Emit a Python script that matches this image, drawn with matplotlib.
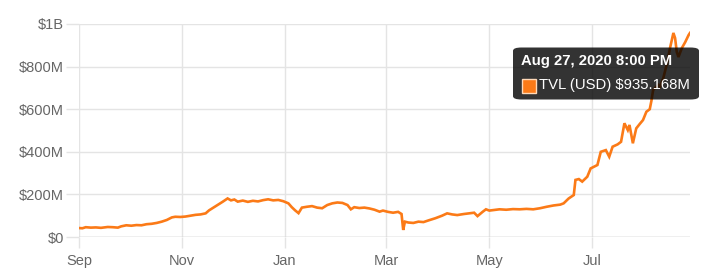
import matplotlib
matplotlib.use("Agg")
import matplotlib.pyplot as plt
from matplotlib.patches import FancyBboxPatch, Rectangle
from matplotlib.ticker import FixedLocator
import pandas as pd

plt.rcParams['font.family'] = ['Liberation Sans', 'DejaVu Sans']

# TVL (USD millions)
dates = [
    "2019-09-01", "2019-09-03", "2019-09-05", "2019-09-08", "2019-09-11", "2019-09-14",
    "2019-09-18", "2019-09-21", "2019-09-24", "2019-09-26", "2019-09-29", "2019-10-02",
    "2019-10-05", "2019-10-08", "2019-10-11", "2019-10-14", "2019-10-17", "2019-10-20",
    "2019-10-23", "2019-10-26", "2019-10-28", "2019-10-31", "2019-11-03", "2019-11-06",
    "2019-11-09", "2019-11-12", "2019-11-15", "2019-11-17", "2019-11-20", "2019-11-22",
    "2019-11-25", "2019-11-28", "2019-11-30", "2019-12-02", "2019-12-04", "2019-12-07",
    "2019-12-10", "2019-12-13", "2019-12-16", "2019-12-19", "2019-12-22", "2019-12-25",
    "2019-12-28", "2019-12-31", "2020-01-03", "2020-01-05", "2020-01-07", "2020-01-09",
    "2020-01-11", "2020-01-14", "2020-01-17", "2020-01-20", "2020-01-23", "2020-01-26",
    "2020-01-29", "2020-02-01", "2020-02-04", "2020-02-07", "2020-02-09", "2020-02-11",
    "2020-02-14", "2020-02-17", "2020-02-20", "2020-02-23", "2020-02-26", "2020-02-28",
    "2020-03-02", "2020-03-05", "2020-03-08", "2020-03-10", "2020-03-11", "2020-03-12",
    "2020-03-14", "2020-03-17", "2020-03-20", "2020-03-23", "2020-03-26", "2020-03-30",
    "2020-04-03", "2020-04-06", "2020-04-09", "2020-04-12", "2020-04-16", "2020-04-20",
    "2020-04-22", "2020-04-24", "2020-04-27", "2020-04-29", "2020-05-01", "2020-05-04",
    "2020-05-07", "2020-05-11", "2020-05-15", "2020-05-19", "2020-05-23", "2020-05-27",
    "2020-05-31", "2020-06-04", "2020-06-08", "2020-06-12", "2020-06-14", "2020-06-17",
    "2020-06-20", "2020-06-21", "2020-06-23", "2020-06-25", "2020-06-28", "2020-06-30",
    "2020-07-02", "2020-07-04", "2020-07-06", "2020-07-09", "2020-07-11", "2020-07-13",
    "2020-07-16", "2020-07-18", "2020-07-20", "2020-07-22", "2020-07-23", "2020-07-25",
    "2020-07-27", "2020-07-29", "2020-07-31", "2020-08-02", "2020-08-04", "2020-08-05",
    "2020-08-06", "2020-08-09", "2020-08-10", "2020-08-12", "2020-08-14", "2020-08-16",
    "2020-08-18", "2020-08-19", "2020-08-20", "2020-08-21", "2020-08-23", "2020-08-25",
    "2020-08-27", "2020-08-27 20:00",
]
tvl = [
    42, 41, 46, 44, 45, 43,
    47, 46, 44, 50, 55, 53,
    56, 55, 60, 62, 66, 72,
    80, 92, 95, 94, 96, 100,
    104, 106, 111, 125, 140, 150,
    165, 181, 172, 176, 166, 171,
    165, 170, 167, 173, 177, 172,
    174, 168, 158, 140, 125, 112,
    138, 142, 145, 138, 135, 150,
    158, 162, 160, 150, 130, 140,
    136, 138, 134, 128, 119, 124,
    118, 114, 118, 108, 33, 72,
    68, 66, 72, 70, 78, 88,
    100, 111, 106, 103, 108, 112,
    114, 98, 118, 130, 124, 127,
    130, 128, 131, 130, 132, 130,
    135, 142, 148, 152, 158, 181,
    197, 268, 272, 260, 283, 322,
    330, 338, 400, 408, 377, 424,
    435, 447, 534, 502, 526, 440,
    510, 530, 549, 588, 600, 640,
    690, 714, 705, 746, 808, 887,
    958, 934, 869, 845, 887, 915,
    948, 958,
]
y_ticks = [0, 200, 400, 600, 800, 1000]
y_labels = ["$0", "$200M", "$400M", "$600M", "$800M", "$1B"]
x_ticks = ["2019-09-01", "2019-11-01", "2020-01-01", "2020-03-01", "2020-05-01", "2020-07-01"]
x_labels = ["Sep", "Nov", "Jan", "Mar", "May", "Jul"]

W, H = 702, 275
fig = plt.figure(figsize=(W / 100, H / 100), dpi=100)
ax = fig.add_axes([79 / W, 1 - 237 / H, (690 - 79) / W, (237 - 24) / H])

t = pd.to_datetime(dates, format="mixed")
ax.plot(t, tvl, color="#fb7a17", lw=1.9, solid_joinstyle="miter", zorder=3)

ax.set_ylim(0, 1000)
ax.set_xlim(pd.Timestamp("2019-09-01"), pd.Timestamp("2020-08-27 20:00"))
ax.yaxis.set_major_locator(FixedLocator(y_ticks))
ax.set_yticklabels(y_labels)
ax.set_xticks(pd.to_datetime(x_ticks))
ax.set_xticklabels(x_labels)

grid_c = "#e4e4e4"
ax.grid(True, color=grid_c, lw=1)
for s in ax.spines.values():
    s.set_visible(False)
ax.axhline(0, color="#c9c9c9", lw=1, zorder=2)
ax.tick_params(axis="y", length=9.5, width=1, color=grid_c, pad=1.5,
               labelsize=10.5, labelcolor="#666666")
ax.tick_params(axis="x", length=8, width=1, color=grid_c, pad=4,
               labelsize=10.5, labelcolor="#666666")


def fx(x):
    return x / W


def fy(y):
    return 1 - y / H


# hover tooltip
box = FancyBboxPatch((fx(513), fy(99.5)), fx(699) - fx(513), fy(47.5) - fy(99.5),
                     boxstyle="round,pad=0,rounding_size=0.012",
                     transform=fig.transFigure, facecolor="black", alpha=0.8,
                     edgecolor="none", zorder=10)
fig.patches.append(box)
fig.text(fx(521), fy(61), "Aug 27, 2020 8:00 PM", color="white", fontsize=10.7,
         fontweight="bold", va="center", ha="left", zorder=11)
sq = Rectangle((fx(521.5), fy(92.5)), fx(14), 14 / H, transform=fig.transFigure,
               facecolor="#fb7a17", edgecolor="#ffd9b8", lw=1, zorder=11)
fig.patches.append(sq)
fig.text(fx(539), fy(85.5), "TVL (USD) $935.168M", color="white", fontsize=10.7,
         va="center", ha="left", zorder=11)

fig.savefig("out.png", dpi=100)
